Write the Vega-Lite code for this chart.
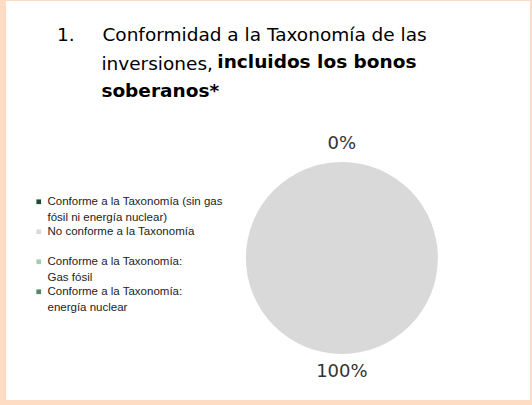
{
  "$schema": "https://vega.github.io/schema/vega-lite/v6.json",
  "width": 524,
  "height": 399,
  "autosize": "none",
  "padding": {"left": 6, "top": 1, "right": 2, "bottom": 5},
  "background": "#FDDCC3",
  "view": {"fill": "#FFFFFF", "stroke": null},
  "config": {"style": {"guide-label": {"lineHeight": 16}}},
  "title": {
    "text": ["1.\u2003\u2002Conformidad a la Taxonomía de las", "\u200b\u2003\u2003\u2009\u2009inversiones,"],
    "subtitle": ["\u200b\u2003\u2003\u2003\u2003\u2003\u2003\u2003\u2003\u2002\u2006incluidos los bonos", "\u200b\u2003\u2003\u2009\u2009soberanos*"],
    "anchor": "start",
    "frame": "group",
    "orient": "top",
    "font": "DejaVu Sans",
    "fontSize": 18.5,
    "fontWeight": "normal",
    "color": "#000000",
    "lineHeight": 28.5,
    "subtitleFont": "DejaVu Sans",
    "subtitleFontSize": 18.5,
    "subtitleFontWeight": "bold",
    "subtitleColor": "#000000",
    "subtitleLineHeight": 28.5,
    "subtitlePadding": -20,
    "dx": 51,
    "dy": 99,
    "offset": 0
  },
  "data": {
    "values": [
      {"categoria": "Conforme a la Taxonomía (sin gas\nfósil ni energía nuclear)", "valor": 0, "orden": 1, "etiqueta": "0%"},
      {"categoria": "No conforme a la Taxonomía\n ", "valor": 100, "orden": 2, "etiqueta": "100%"},
      {"categoria": "Conforme a la Taxonomía:\nGas fósil", "valor": 0, "orden": 3, "etiqueta": "0%"},
      {"categoria": "Conforme a la Taxonomía:\nenergía nuclear", "valor": 0, "orden": 4, "etiqueta": "0%"}
    ]
  },
  "layer": [
    {
      "mark": {"type": "arc", "x": {"expr": "width * 0.641"}, "y": {"expr": "height * 0.644"}, "outerRadius": 96},
      "encoding": {
        "theta": {"field": "valor", "type": "quantitative", "stack": true},
        "order": {"field": "orden", "type": "quantitative"},
        "color": {
          "field": "categoria",
          "type": "nominal",
          "sort": null,
          "scale": {
            "domain": [
              "Conforme a la Taxonomía (sin gas\nfósil ni energía nuclear)",
              "No conforme a la Taxonomía\n ",
              "Conforme a la Taxonomía:\nGas fósil",
              "Conforme a la Taxonomía:\nenergía nuclear"
            ],
            "range": ["#1E4B36", "#D9D9D9", "#A3CDAD", "#4E8B61"]
          },
          "legend": {
            "orient": "none",
            "legendX": 27,
            "legendY": 195,
            "title": null,
            "symbolType": "square",
            "symbolSize": 22,
            "symbolStrokeWidth": 0,
            "labelFont": "Liberation Sans",
            "labelFontSize": 11.5,
            "labelColor": "#222222",
            "labelExpr": "split(datum.label, '\\n')",
            "labelLimit": 0,
            "labelOffset": 3,
            "rowPadding": 1
          }
        }
      }
    },
    {
      "transform": [{"filter": "datum.orden <= 2"}],
      "mark": {"type": "text", "x": {"expr": "width * 0.641"}, "y": {"expr": "height * 0.644"}, "radius": 114, "font": "DejaVu Sans", "fontSize": 18, "color": "#333333"},
      "encoding": {
        "theta": {"field": "valor", "type": "quantitative", "stack": true},
        "order": {"field": "orden", "type": "quantitative"},
        "text": {"field": "etiqueta"}
      }
    }
  ]
}
